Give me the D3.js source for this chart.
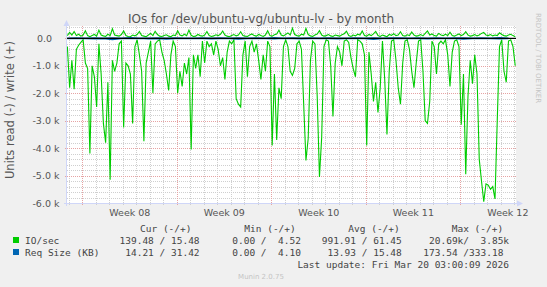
<!DOCTYPE html>
<html>
<head>
<meta charset="utf-8">
<script src="https://cdn.jsdelivr.net/npm/d3@7"></script>
<style>
    body { margin: 0; background: #F0F0F0; }
    #chart-area { width: 547px; height: 287px; }
    text { font-family: "DejaVu Sans", sans-serif; fill: #555; }
    .mono { font-family: "DejaVu Sans Mono", monospace; font-size: 9.5px; white-space: pre; fill: #444; }
</style>
</head>
<body>
<div id="chart-area"></div>
<script>

// reads (ops/s), one value every 4 hours from Feb 14 22:00
let readValues = [
    300, 1800, 800, 1850, 400, 250, 150, 50, 900, 1100,
    4200, 1000, 1400, 2500, 200, 1300, 3100, 3800, 1600, 5150,
    800, 1200, 900, 200, 100, 3250, 900, 1000, 1300, 3100,
    300, 50, 600, 1200, 3750, 900, 500, 100, 2000, 200,
    100, 50, 500, 800, 1300, 1900, 600, 100, 300, 2000,
    1200, 1750, 900, 1300, 700, 4050, 600, 1100, 600, 1400,
    100, 900, 100, 300, 200, 600, 100, 400, 1000, 700,
    1500, 500, 100, 200, 50, 2200, 2400, 2500, 600, 100,
    1400, 300, 100, 500, 200, 800, 1500, 600, 1200, 100,
    300, 3900, 1300, 3700, 1800, 2200, 300, 50, 300, 1200,
    1350, 1100, 200, 100, 400, 2400, 4450, 3650, 800, 100,
    200, 2100, 5050, 3600, 300, 50, 100, 1000, 2850, 900,
    300, 500, 1000, 100, 50, 150, 700, 1100, 1400, 50,
    100, 200, 600, 3900, 500, 1300, 2300, 1600, 2700, 1800,
    100, 1500, 3500, 1200, 100, 50, 800, 1800, 2400, 900,
    100, 50, 400, 1200, 1800, 900, 100, 50, 1200, 3000,
    3100, 2300, 100, 300, 1300, 200, 100, 200, 50, 600,
    1750, 500, 100, 50, 300, 3150, 1300, 4950, 2100, 800,
    1650, 600, 1300, 4400, 5200, 5950, 5300, 5350, 5500, 5400,
    5850, 3000, 300, 50, 1200, 1600, 100, 50, 300, 1000
];

// writes (ops/s), same timestamps
let writeValues = [
    100, 220, 120, 250, 100, 150, 80, 120, 280, 100,
    60, 100, 140, 80, 300, 120, 90, 70, 150, 100,
    350, 120, 100, 80, 140, 270, 100, 70, 60, 120,
    90, 140, 250, 100, 80, 60, 120, 180, 100, 260,
    140, 80, 70, 100, 130, 80, 60, 120, 100, 280,
    120, 90, 150, 100, 300, 110, 70, 80, 140, 100,
    80, 120, 250, 100, 70, 90, 130, 100, 150, 270,
    120, 80, 60, 100, 140, 90, 120, 240, 100, 80,
    70, 120, 160, 100, 80, 140, 100, 70, 120, 280,
    100, 80, 130, 160, 300, 120, 90, 140, 200, 120,
    370, 140, 100, 80, 150, 120, 360, 140, 90, 70,
    120, 160, 280, 120, 80, 100, 140, 90, 70, 120,
    100, 80, 130, 170, 260, 100, 70, 120, 90, 150,
    120, 270, 100, 80, 140, 100, 160, 250, 100, 70,
    120, 90, 60, 140, 110, 170, 100, 120, 240, 100,
    80, 130, 100, 230, 120, 80, 100, 140, 90, 180,
    270, 120, 160, 100, 80, 180, 120, 100, 150, 100,
    220, 100, 80, 120, 160, 100, 140, 240, 120, 80,
    100, 140, 90, 120, 180, 220, 120, 100, 140, 90,
    120, 100, 200, 140, 100, 80, 120, 150, 100, 60
];

// request size (KB), one value every 16 hours
let reqReadValues = [
    12, 16, 9, 20, 13, 45, 11, 14, 8, 18, 12, 28, 10, 13, 16, 9, 22, 11, 13, 35,
    10, 15, 12, 18, 8, 13, 24, 11, 14, 9, 20, 12, 15, 10, 40, 11, 13, 17, 9, 12,
    21, 10, 15, 12, 30, 11, 14, 10, 18, 14
];
let reqWriteValues = [
    12, 16, 14, 20, 10, 18, 13, 25, 11, 15, 19, 13, 22, 10, 14, 17, 12, 21, 14, 16,
    11, 18, 12, 28, 14, 16, 12, 20, 13, 17, 15, 11, 22, 14, 18, 12, 16, 24, 12, 17,
    14, 19, 12, 16, 20, 13, 17, 15, 31, 14
];

// axis ticks
let yTickValues = [0, -1000, -2000, -3000, -4000, -5000, -6000];
let yTickLabels = ["0.0", "-1.0 k", "-2.0 k", "-3.0 k", "-4.0 k", "-5.0 k", "-6.0 k"];
let weekLabels = ["Week 08", "Week 09", "Week 10", "Week 11", "Week 12"];

// legend
let legendHeaders = ["Cur (-/+)", "Min (-/+)", "Avg (-/+)", "Max (-/+)"];
let legendNames = ["IO/sec", "Req Size (KB)"];
let legendColors = ["#00CC00", "#0066B3"];
let legendCur = ["139.48 / 15.48", " 14.21 / 31.42"];
let legendMin = ["  0.00 /  4.52", "  0.00 /  4.10"];
let legendAvg = ["991.91 / 61.45", " 13.93 / 15.48"];
let legendMax = [" 20.69k/  3.85k", "173.54 /333.18"];


class IoVis {

    constructor(_parentElement) {
        this.parentElement = _parentElement;
        this.initVis();
    }

    initVis() {
        let vis = this;

        vis.width = 547;
        vis.height = 287;
        vis.plot = {left: 67, right: 516, top: 26, bottom: 203};

        vis.svg = d3.select("#" + vis.parentElement).append("svg")
            .attr("width", vis.width)
            .attr("height", vis.height);

        vis.svg.append("rect")
            .attr("width", vis.width)
            .attr("height", vis.height)
            .attr("fill", "#F0F0F0");

        // scales
        vis.start = new Date(Date.UTC(2026, 1, 14, 21, 20));
        vis.end = new Date(Date.UTC(2026, 2, 20, 3, 20));
        vis.x = d3.scaleUtc()
            .domain([vis.start, vis.end])
            .range([vis.plot.left, vis.plot.right]);

        vis.y = d3.scaleLinear()
            .domain([-6000, 450])
            .range([vis.plot.bottom, vis.plot.top]);

        // canvas
        vis.svg.append("rect")
            .attr("x", vis.plot.left)
            .attr("y", vis.plot.top)
            .attr("width", vis.plot.right - vis.plot.left)
            .attr("height", vis.plot.bottom - vis.plot.top)
            .attr("fill", "white");

        // title
        vis.svg.append("text")
            .attr("x", 261)
            .attr("y", 23)
            .attr("text-anchor", "middle")
            .style("font-size", "12px")
            .text("IOs for /dev/ubuntu-vg/ubuntu-lv - by month");

        // y label
        vis.svg.append("text")
            .attr("transform", "translate(14,110) rotate(-90)")
            .attr("text-anchor", "middle")
            .style("font-size", "11.5px")
            .text("Units read (-) / write (+)");

        // rrdtool credit
        vis.svg.append("text")
            .attr("transform", "translate(536,13) rotate(90)")
            .style("font-size", "7px")
            .style("fill", "#c4c4c4")
            .text("RRDTOOL / TOBI OETIKER");

        vis.grid = vis.svg.append("g");
        vis.chart = vis.svg.append("g");
        vis.axes = vis.svg.append("g");
        vis.legend = vis.svg.append("g");

        vis.wrangleData();
    }

    wrangleData() {
        let vis = this;
        let dataStart = new Date(Date.UTC(2026, 1, 14, 22, 0));

        vis.reads = readValues.map((v, i) => ({date: d3.utcHour.offset(dataStart, 4 * i), value: -v}));
        vis.writes = writeValues.map((v, i) => ({date: d3.utcHour.offset(dataStart, 4 * i), value: v}));
        vis.reqReads = reqReadValues.map((v, i) => ({date: d3.utcHour.offset(dataStart, 16 * i), value: -v}));
        vis.reqWrites = reqWriteValues.map((v, i) => ({date: d3.utcHour.offset(dataStart, 16 * i), value: v}));

        vis.updateVis();
    }

    updateVis() {
        let vis = this;
        let p = vis.plot;

        // minor grid
        let minorY = d3.range(-5800, 500, 200).filter(d => d % 1000 !== 0);
        vis.grid.selectAll(".hminor").data(minorY).enter().append("line")
            .attr("x1", p.left).attr("x2", p.right)
            .attr("y1", d => Math.round(vis.y(d)) + 0.5).attr("y2", d => Math.round(vis.y(d)) + 0.5)
            .attr("stroke", "#cfcfcf").attr("stroke-dasharray", "1,1");

        let days = d3.utcDay.range(vis.start, vis.end).filter(d => d.getUTCDay() !== 1);
        vis.grid.selectAll(".vminor").data(days).enter().append("line")
            .attr("x1", d => Math.round(vis.x(d)) + 0.5).attr("x2", d => Math.round(vis.x(d)) + 0.5)
            .attr("y1", p.top).attr("y2", p.bottom + 2)
            .attr("stroke", "#cfcfcf").attr("stroke-dasharray", "1,1");

        // major grid
        vis.grid.selectAll(".hmajor").data(yTickValues).enter().append("line")
            .attr("x1", p.left - 2).attr("x2", p.right)
            .attr("y1", d => Math.round(vis.y(d)) + 0.5).attr("y2", d => Math.round(vis.y(d)) + 0.5)
            .attr("stroke", "#e6a3a3").attr("stroke-dasharray", "1,1");

        let mondays = d3.utcMonday.range(vis.start, vis.end);
        vis.grid.selectAll(".vmajor").data(mondays).enter().append("line")
            .attr("x1", d => Math.round(vis.x(d)) + 0.5).attr("x2", d => Math.round(vis.x(d)) + 0.5)
            .attr("y1", p.top).attr("y2", p.bottom + 3)
            .attr("stroke", "#e6a3a3").attr("stroke-dasharray", "1,1");

        // lines
        let line = d3.line()
            .x(d => vis.x(d.date))
            .y(d => vis.y(d.value));

        vis.chart.append("path").datum(vis.reads)
            .attr("d", line).attr("fill", "none")
            .attr("stroke", "#00CC00").attr("stroke-width", 1.1);

        vis.chart.append("path").datum(vis.writes)
            .attr("d", line).attr("fill", "none")
            .attr("stroke", "#00CC00").attr("stroke-width", 1.1);

        vis.chart.append("path").datum(vis.reqReads)
            .attr("d", line).attr("fill", "none")
            .attr("stroke", "#0066B3").attr("stroke-width", 1.1);

        vis.chart.append("path").datum(vis.reqWrites)
            .attr("d", line).attr("fill", "none")
            .attr("stroke", "#0066B3").attr("stroke-width", 1.1);

        // zero line
        vis.chart.append("line")
            .attr("x1", p.left).attr("x2", p.right)
            .attr("y1", vis.y(0)).attr("y2", vis.y(0))
            .attr("stroke", "#000").attr("stroke-width", 1.1);

        // axes lines and arrows
        vis.axes.append("line")
            .attr("x1", p.left - 3).attr("x2", p.right + 2)
            .attr("y1", p.bottom + 0.5).attr("y2", p.bottom + 0.5)
            .attr("stroke", "#CFD6F8");
        vis.axes.append("line")
            .attr("x1", p.left - 0.5).attr("x2", p.left - 0.5)
            .attr("y1", p.bottom + 3).attr("y2", p.top - 1)
            .attr("stroke", "#CFD6F8");
        vis.axes.append("path")
            .attr("d", `M${p.right + 1},${p.bottom - 2.5}L${p.right + 7},${p.bottom + 0.5}L${p.right + 1},${p.bottom + 3.5}Z`)
            .attr("fill", "#CFD6F8");
        vis.axes.append("path")
            .attr("d", `M${p.left - 3.5},${p.top - 0}L${p.left - 0.5},${p.top - 6}L${p.left + 2.5},${p.top - 0}Z`)
            .attr("fill", "#CFD6F8");

        // y axis labels
        let yAxis = d3.axisLeft(vis.y)
            .tickValues(yTickValues)
            .tickSize(0)
            .tickFormat((d, i) => yTickLabels[i]);

        let yg = vis.axes.append("g")
            .attr("transform", `translate(${p.left},0)`)
            .call(yAxis);
        yg.select(".domain").remove();
        yg.selectAll("text")
            .attr("x", d => d === 0 ? -15 : -7.5)
            .style("font-family", "DejaVu Sans")
            .style("font-size", "9.5px")
            .style("fill", "#555");

        // x axis labels
        let weekCenters = mondays.map(d => d3.utcHour.offset(d, 84));
        let xAxis = d3.axisBottom(vis.x)
            .tickValues(weekCenters)
            .tickSize(0)
            .tickFormat((d, i) => weekLabels[i]);

        let xg = vis.axes.append("g")
            .attr("transform", `translate(0,${p.bottom})`)
            .call(xAxis);
        xg.select(".domain").remove();
        xg.selectAll("text")
            .attr("y", 6)
            .style("font-family", "DejaVu Sans")
            .style("font-size", "9.5px")
            .style("fill", "#555");

        // legend
        let headerX = [140, 244.3, 348.3, 451.7];
        vis.legend.selectAll(".header").data(legendHeaders).enter().append("text")
            .attr("class", "mono")
            .attr("x", (d, i) => headerX[i])
            .attr("y", 232)
            .text(d => d);

        let rowY = [243.5, 255.5];
        legendNames.forEach(function (name, i) {
            vis.legend.append("rect")
                .attr("x", 13).attr("y", rowY[i] - 6.5)
                .attr("width", 6).attr("height", 6)
                .attr("fill", legendColors[i]);
            vis.legend.append("text").attr("class", "mono")
                .attr("x", 25).attr("y", rowY[i]).text(name);
            vis.legend.append("text").attr("class", "mono")
                .attr("x", 119.5).attr("y", rowY[i]).text(legendCur[i]);
            vis.legend.append("text").attr("class", "mono")
                .attr("x", 220.8).attr("y", rowY[i]).text(legendMin[i]);
            vis.legend.append("text").attr("class", "mono")
                .attr("x", 321.7).attr("y", rowY[i]).text(legendAvg[i]);
            vis.legend.append("text").attr("class", "mono")
                .attr("x", 423.3).attr("y", rowY[i]).text(legendMax[i]);
        });

        vis.legend.append("text").attr("class", "mono")
            .attr("x", 509).attr("y", 267.5)
            .attr("text-anchor", "end")
            .text("Last update: Fri Mar 20 03:00:09 2026");

        vis.legend.append("text")
            .attr("x", 261).attr("y", 279)
            .attr("text-anchor", "middle")
            .style("font-size", "7px")
            .style("fill", "#c4c4c4")
            .text("Munin 2.0.75");
    }
}

new IoVis("chart-area");

</script>
</body>
</html>
